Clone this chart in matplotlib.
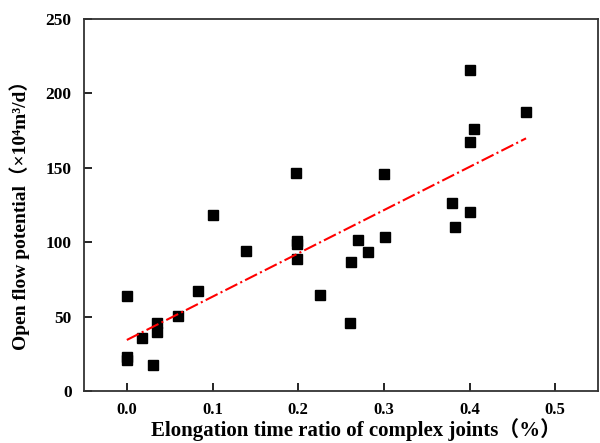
import matplotlib
matplotlib.use("Agg")
import matplotlib.pyplot as plt

# Elongation time ratio of complex joints (%) vs open flow potential (10^4 m3/d)
ratio = [0.0, 0.0, 0.0, 0.018, 0.030, 0.035, 0.035, 0.060, 0.083, 0.101,
         0.139, 0.198, 0.199, 0.199, 0.199, 0.226, 0.260, 0.262, 0.270,
         0.282, 0.300, 0.301, 0.380, 0.383, 0.400, 0.400, 0.400, 0.405, 0.466]
flow = [64, 23, 21, 35.6, 17.5, 45.5, 39.4, 50.6, 67, 118.3,
        94.3, 146.3, 101, 98.5, 88.9, 64.3, 45.5, 86.5, 101.5,
        93.6, 145.8, 103.7, 126.3, 110.4, 120.3, 167.5, 215.7, 176, 187.5]

# fitted trend line end points
fit_x = [0.0, 0.466]
fit_y = [34.3, 169.8]

xticks = [0.0, 0.1, 0.2, 0.3, 0.4, 0.5]
yticks = [0, 50, 100, 150, 200, 250]

fam = ['Liberation Serif', 'Noto Sans CJK SC']

fig = plt.figure(figsize=(6.0, 4.43), dpi=100)
ax = fig.add_axes([84 / 600, 1 - 391 / 443, 514 / 600, 372 / 443])

ax.plot(ratio, flow, 's', color='black', markersize=6.5, linestyle='none')
ax.plot(fit_x, fit_y, color='red', linestyle='-.', linewidth=1.5)

ax.set_xlim(-0.05, 0.55)
ax.set_ylim(0, 250)
ax.set_xticks(xticks)
ax.set_yticks(yticks)
ax.set_xticklabels([f"{t:.1f}" for t in xticks], family=fam, fontweight='bold', fontsize=12)
ax.set_yticklabels([str(t) for t in yticks], family=fam, fontweight='bold', fontsize=12.5)
ax.tick_params(direction='in', length=6, width=1.2, top=False, right=False)
ax.tick_params(axis='x', pad=8)
ax.tick_params(axis='y', pad=9)

for s in ax.spines.values():
    s.set_linewidth(1.3)
    s.set_color('#333333')

ax.set_xlabel("Elongation time ratio of complex joints（%）", family=fam,
              fontweight='bold', fontsize=15)
ax.set_ylabel("Open flow potential（×10⁴m³/d）", family=fam,
              fontweight='bold', fontsize=14)
ax.xaxis.set_label_coords(0.53, -0.072)
ax.yaxis.set_label_coords(-0.105, 0.485)

fig.savefig("out.png", dpi=100)
